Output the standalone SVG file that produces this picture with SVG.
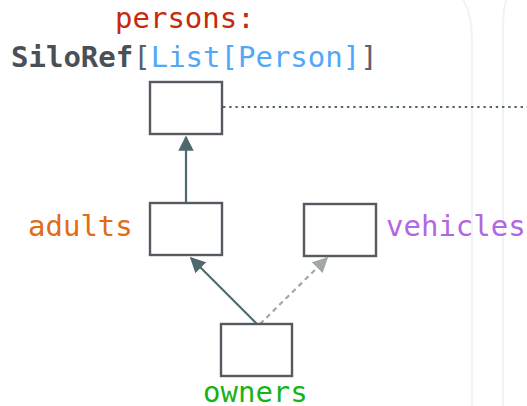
<svg xmlns="http://www.w3.org/2000/svg" width="527" height="406" viewBox="0 0 527 406">
  <defs>
    <marker id="head-solid" viewBox="0 0 10 10" refX="9" refY="5" markerWidth="7" markerHeight="7" markerUnits="strokeWidth" orient="auto">
      <path d="M0,0 L10,5 L0,10 z" fill="#4e686e"/>
    </marker>
    <marker id="head-dash" viewBox="0 0 10 10" refX="9" refY="5" markerWidth="7" markerHeight="7" markerUnits="strokeWidth" orient="auto">
      <path d="M0,0 L10,5 L0,10 z" fill="#a3a7a6"/>
    </marker>
  </defs>
  <style>
    .box { fill: #ffffff; stroke: #555a60; stroke-width: 2.4; }
    .lbl { font-family: "DejaVu Sans Mono", "Liberation Mono", monospace; font-size: 29px; }
    .edge { fill: none; stroke-width: 2.2; }
    .solid { stroke: #4e686e; marker-end: url(#head-solid); }
    .dashed { stroke: #a3a7a6; stroke-dasharray: 5 4; marker-end: url(#head-dash); }
    .guide { fill: none; stroke: #f2f2f2; stroke-width: 2; }
  </style>

  <rect width="527" height="406" fill="#ffffff"/>

  <!-- faint background guides -->
  <path class="guide" d="M463,0 Q472,14 472,40 L472,406"/>
  <path class="guide" d="M506,0 Q503,10 503,30 L503,406"/>

  <g id="connectors">
    <line class="edge" x1="223" y1="107" x2="527" y2="107" stroke="#4e686e" stroke-width="2.4" stroke-dasharray="2.4 3.8"/>
    <line class="edge solid" x1="186" y1="203" x2="186" y2="137"/>
    <line class="edge solid" x1="257" y1="324" x2="191" y2="258"/>
    <line class="edge dashed" x1="260" y1="324" x2="327" y2="258"/>
  </g>

  <g id="persons">
    <rect class="box" x="150" y="82" width="72" height="52"/>
    <text class="lbl" x="115" y="28" fill="#c7290c">persons:</text>
    <text class="lbl" x="11" y="67"><tspan fill="#4b5057" font-weight="bold">SiloRef</tspan><tspan fill="#5c6066">[</tspan><tspan fill="#52a7f7">List[Person]</tspan><tspan fill="#5c6066">]</tspan></text>
  </g>

  <g id="adults">
    <rect class="box" x="150" y="203" width="72" height="52"/>
    <text class="lbl" x="28" y="236" fill="#e06c18">adults</text>
  </g>

  <g id="vehicles">
    <rect class="box" x="304" y="204" width="72" height="52"/>
    <text class="lbl" x="386" y="236" fill="#b266e0">vehicles</text>
  </g>

  <g id="owners">
    <rect class="box" x="221" y="324" width="71" height="52"/>
    <text class="lbl" x="203" y="402" fill="#17b317">owners</text>
  </g>
</svg>
